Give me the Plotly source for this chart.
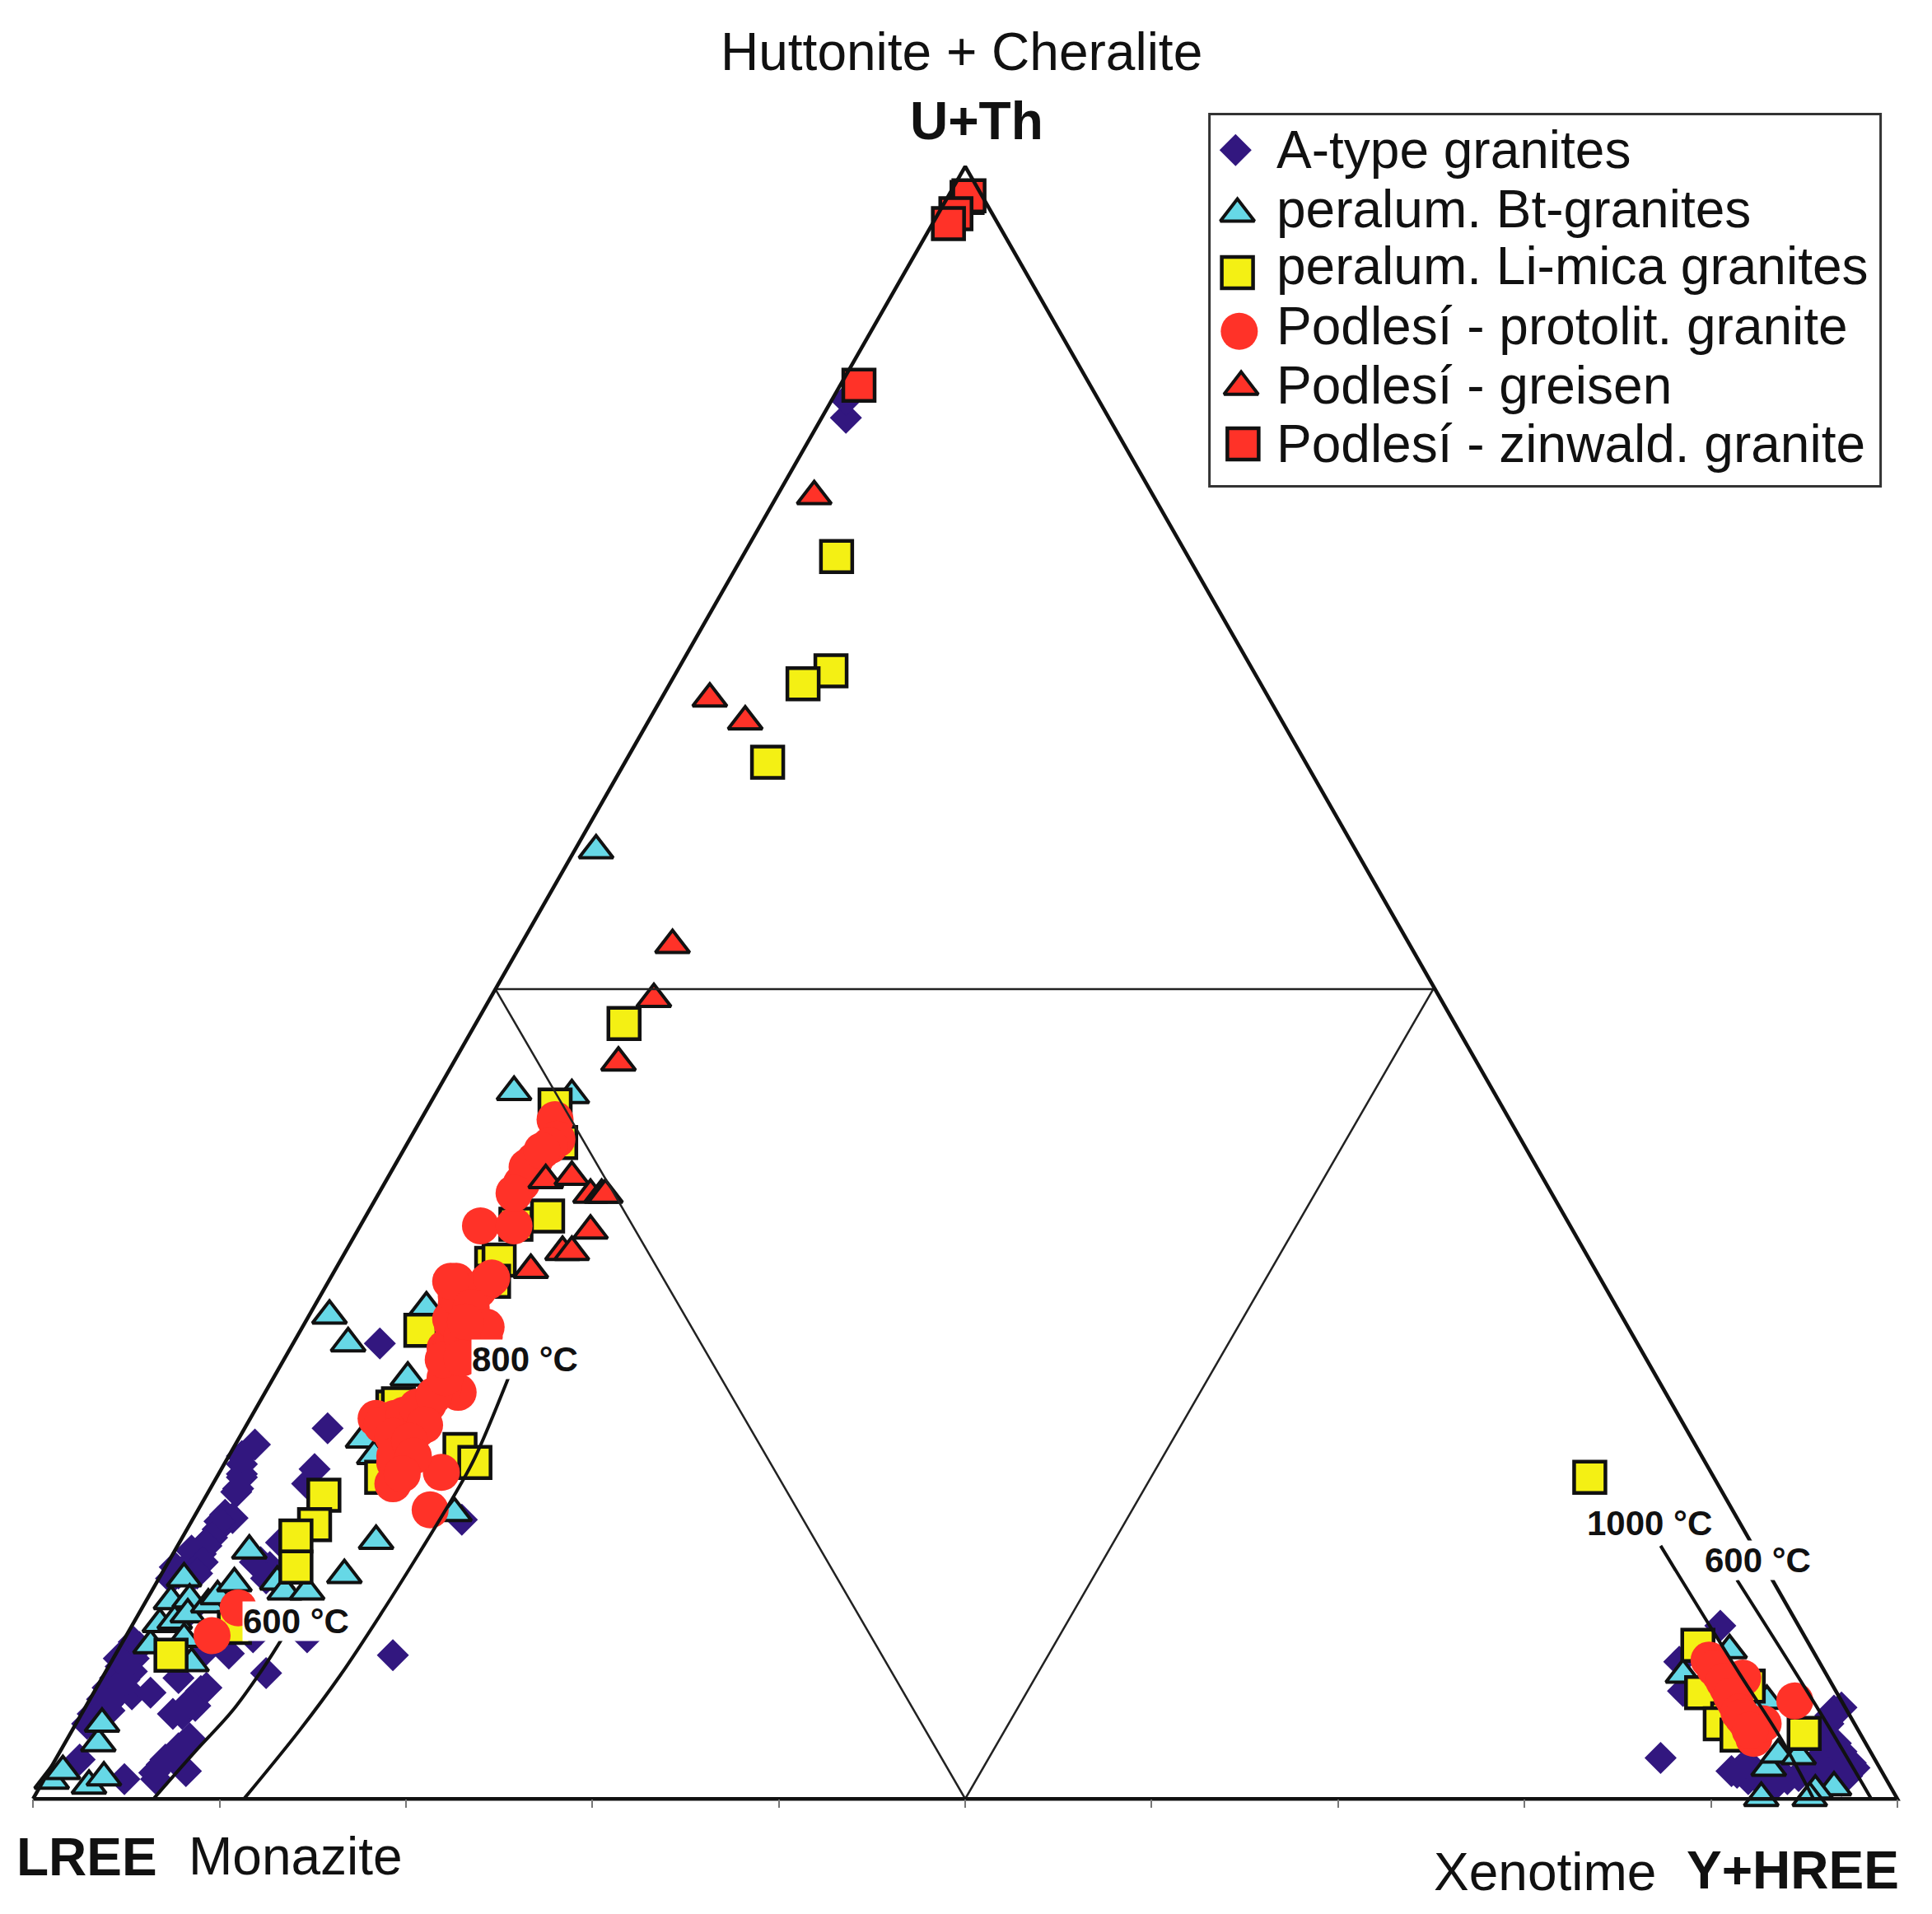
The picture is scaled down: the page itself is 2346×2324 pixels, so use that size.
# Ternary diagram of monazite / xenotime / huttonite+cheralite compositions
import plotly.graph_objects as go

# x = position along the LREE - Y+HREE base (%), y = U+Th (%)
atype_x = [2.9, 3.2, 3.7, 4.0, 4.4, 4.7, 5.1, 5.4, 4.7, 5.3, 6.3, 9.0, 8.7, 8.0, 7.8, 10.5, 11.8, 12.5, 2.5, 4.9,
           8.2, 6.5, 7.1, 7.8, 8.3, 14.7, 19.3, 11.9, 11.2, 11.2, 10.9, 10.3, 9.9, 9.4, 9.0, 8.7, 8.3, 7.6,
           15.8, 15.1, 14.7, 13.3, 12.7, 11.9, 8.7, 7.8, 12.2, 12.8, 8.4, 9.0, 18.6, 23.0, 43.6, 43.6,
           3.4, 4.1, 4.3, 4.0, 4.9, 5.3, 5.4, 5.7, 4.6, 3.1,
           10.7, 10.0, 9.6, 9.0, 9.3, 8.5, 9.1, 8.8, 7.6, 7.4, 11.2, 11.0, 11.2, 12.5,
           7.5, 8.4, 9.3, 6.6, 6.9, 7.5, 8.4,
           90.5, 88.3, 88.5, 87.3, 91.4, 92.0, 93.8, 94.7, 95.5, 96.2, 96.6, 96.3, 96.7, 96.7, 97.7, 97.3, 97.0, 93.1,
           96.4, 97.0, 96.0, 96.4, 95.7, 95.1, 97.0, 97.5, 96.3, 95.8, 92.4, 91.1, 91.9, 92.6, 93.5, 94.1]
atype_y = [4.6, 5.2, 6.1, 6.8, 7.4, 8.1, 8.8, 9.6, 6.6, 6.4, 6.5, 6.6, 5.7, 5.2, 7.4, 8.9, 9.9, 7.7, 2.4, 1.2,
           1.7, 1.6, 2.4, 3.1, 3.4, 9.9, 8.8, 21.7, 20.5, 19.7, 18.8, 17.4, 16.5, 15.8, 15.2, 14.5, 14.3, 13.7,
           22.7, 20.2, 19.3, 15.7, 14.2, 14.5, 13.8, 13.8, 14.5, 13.7, 11.5, 8.8, 27.9, 17.1, 84.6, 85.7,
           4.9, 5.4, 6.4, 5.8, 7.3, 7.8, 8.6, 9.3, 8.6, 4.6,
           17.2, 17.0, 16.0, 15.0, 15.5, 15.2, 14.5, 13.8, 14.2, 13.5, 19.9, 19.0, 21.0, 13.5,
           5.2, 5.9, 6.8, 1.2, 2.1, 2.7, 3.7,
           10.6, 8.4, 6.6, 2.5, 1.6, 1.2, 1.4, 1.4, 1.7, 2.7, 5.4, 4.6, 3.4, 1.9, 1.9, 1.4, 1.1, 1.4,
           5.1, 5.6, 3.7, 2.7, 2.4, 1.9, 2.9, 2.2, 1.6, 1.1, 1.7, 1.7, 2.2, 1.1, 0.9, 1.2]

bt_x = [1.0, 1.6, 3.0, 3.8, 3.5, 3.7, 6.3, 6.8, 7.4, 8.1, 8.4, 7.6, 8.3, 9.4, 8.5, 8.1, 9.9, 10.8, 11.6,
        13.1, 13.5, 14.7, 16.7, 18.4, 17.7, 18.3, 22.6, 15.9, 16.9, 21.1, 20.1, 25.8, 28.9, 30.2,
        92.7, 93.1, 93.6, 94.7, 96.6, 95.6, 95.3, 88.5, 93.0, 91.0]
bt_y = [1.1, 1.7, 0.8, 1.3, 3.4, 4.6, 9.4, 10.7, 12.1, 13.5, 12.2, 10.9, 11.3, 11.9, 8.3, 9.8, 12.4, 13.2, 15.2,
        13.3, 12.7, 12.7, 13.7, 15.8, 22.0, 21.0, 17.5, 29.6, 27.9, 30.1, 25.8, 43.3, 43.1, 58.1,
        0.05, 1.9, 2.7, 2.6, 0.7, 0.5, 0.05, 7.6, 6.0, 9.1]

limica_x = [7.4, 10.8, 15.6, 15.1, 14.1, 14.1, 18.7, 28.0, 28.3, 27.6, 25.9, 24.6, 25.0, 24.7, 20.8, 22.9, 23.7,
            19.3, 19.6, 43.1, 42.8, 41.3, 39.4, 31.7, 83.5, 89.3, 89.5, 90.9, 90.5, 91.4, 92.0, 95.0]
limica_y = [8.8, 10.5, 18.6, 16.8, 16.1, 14.2, 19.7, 42.5, 40.2, 35.7, 35.2, 32.8, 33.0, 31.7, 28.7, 21.4, 20.6,
            24.0, 24.2, 76.1, 69.1, 68.3, 63.5, 47.5, 19.7, 9.4, 6.5, 4.9, 4.6, 3.9, 6.9, 4.0]

protolit_x = [9.6, 11.0, 28.0, 28.1, 27.7, 26.9, 26.2, 24.0, 25.8, 22.7, 24.4, 23.3, 22.7, 22.5, 24.2, 22.1, 22.1,
              22.8, 22.0, 21.2, 20.5, 18.4, 19.4, 20.6, 19.7, 19.4, 19.3, 21.9, 21.3,
              18.7, 19.9, 19.3, 20.6, 21.5, 22.1, 22.4, 22.0, 22.4, 22.7, 23.9, 24.6, 22.4, 23.5, 24.3,
              23.0, 23.2, 23.0, 19.4, 26.5, 27.3, 25.8, 21.0, 20.2, 20.4, 19.8,
              89.9, 90.5, 90.9, 91.7, 91.3, 91.9, 92.3, 92.8, 94.5,
              90.2, 90.7, 91.1, 91.5, 91.7, 92.1]
protolit_y = [10.0, 11.7, 41.6, 40.4, 40.0, 39.1, 37.7, 35.1, 35.1, 31.7, 31.7, 31.0, 30.3, 29.0, 28.3, 27.6, 26.7,
              24.9, 25.2, 24.2, 23.5, 23.3, 23.3, 22.6, 21.8, 20.6, 19.3, 20.0, 17.7,
              22.9, 23.5, 22.2, 24.0, 24.7, 25.8, 27.6, 26.9, 29.4, 30.8, 31.2, 31.9, 31.7, 30.1, 28.9,
              28.3, 29.2, 27.0, 21.0, 38.7, 39.7, 37.1, 22.9, 21.9, 21.0, 19.9,
              8.5, 7.6, 6.8, 7.4, 5.9, 4.7, 3.7, 4.6, 6.0,
              8.0, 7.2, 6.3, 5.3, 5.0, 4.2]

greisen_x = [31.4, 27.5, 28.9, 29.9, 30.5, 30.7, 29.9, 28.4, 28.9, 26.7, 41.9, 36.3, 38.2, 34.3, 33.3, 50.1]
greisen_y = [45.1, 37.9, 38.1, 37.0, 37.0, 37.0, 34.8, 33.5, 33.5, 32.4, 79.8, 67.4, 66.0, 52.3, 49.0, 98.2]

zinwald_x = [44.3, 50.1, 50.2, 49.5, 49.1]
zinwald_y = [86.6, 98.1, 98.2, 97.1, 96.5]

# solvus curves
mnz_600_x = [6.5, 8.7, 10.7, 12.4, 13.4]
mnz_600_y = [0.05, 2.9, 5.4, 8.1, 9.9]
mnz_800_x = [11.35, 14.3, 16.5, 18.7, 20.9, 22.7, 23.7, 25.5]
mnz_800_y = [0.05, 4.2, 7.6, 11.4, 15.4, 18.8, 20.9, 25.8]
xtm_1000_x = [87.3, 91.4, 93.8, 95.5]
xtm_1000_y = [15.5, 7.9, 3.6, 0.0]
xtm_600_x = [91.4, 95.8, 98.6]
xtm_600_y = [13.4, 5.4, 0.0]

# diagram frame
outer_x = [0, 50, 100, 0]
outer_y = [0, 100, 0, 0]
inner_x = [24.8, 75.1, 50, 24.8]
inner_y = [49.6, 49.6, 0, 49.6]
base_ticks = [0, 10, 20, 30, 40, 50, 60, 70, 80, 90, 100]

legend_labels = ["A-type granites", "peralum. Bt-granites", "peralum. Li-mica granites",
                 "Podlesí - protolit. granite", "Podlesí - greisen", "Podlesí - zinwald. granite"]
legend_marker_x = [64.5, 64.6, 64.6, 64.7, 64.8, 64.9]
legend_marker_y = [101.0, 97.1, 93.5, 89.9, 86.5, 83.0]
legend_text_y = [101.0, 97.4, 93.9, 90.2, 86.6, 83.0]

INDIGO = "#32177f"
CYAN = "#66d8e6"
YELLOW = "#f4f014"
RED = "#ff3228"
INK = "#111111"
FONT = "Liberation Sans"

styles = [
    dict(symbol="diamond", size=30, color=INDIGO, line=dict(width=0)),
    dict(symbol="triangle-up", size=36, color=CYAN, line=dict(width=4, color=INK)),
    dict(symbol="square", size=38, color=YELLOW, line=dict(width=4.5, color=INK)),
    dict(symbol="circle", size=45, color=RED, line=dict(width=0)),
    dict(symbol="triangle-up", size=36, color=RED, line=dict(width=4, color=INK)),
    dict(symbol="square", size=38, color=RED, line=dict(width=4.5, color=INK)),
]
series = [(atype_x, atype_y), (bt_x, bt_y), (limica_x, limica_y),
          (protolit_x, protolit_y), (greisen_x, greisen_y), (zinwald_x, zinwald_y)]

fig = go.Figure()

for (xs, ys), style, label in zip(series, styles, legend_labels):
    fig.add_trace(go.Scatter(x=xs, y=ys, mode="markers", marker=style, name=label, showlegend=False))

# lines sit on top of the points
for xs, ys in [(mnz_600_x, mnz_600_y), (mnz_800_x, mnz_800_y), (xtm_1000_x, xtm_1000_y), (xtm_600_x, xtm_600_y)]:
    fig.add_trace(go.Scatter(x=xs, y=ys, mode="lines", line=dict(color=INK, width=4, shape="spline"),
                             showlegend=False))
fig.add_trace(go.Scatter(x=inner_x, y=inner_y, mode="lines", line=dict(color="#222222", width=2.5), showlegend=False))
fig.add_trace(go.Scatter(x=outer_x, y=outer_y, mode="lines", line=dict(color=INK, width=4.5), showlegend=False))

# hand made legend, plotly caps legend markers at 16 px
for i, label in enumerate(legend_labels):
    fig.add_trace(go.Scatter(x=[legend_marker_x[i]], y=[legend_marker_y[i]], mode="markers", marker=styles[i],
                             showlegend=False))
    fig.add_annotation(x=66.6, y=legend_text_y[i], text=label, showarrow=False, xanchor="left",
                       font=dict(family=FONT, size=64, color=INK))
fig.add_shape(type="rect", x0=63.1, x1=99.1, y0=80.4, y1=103.2, line=dict(color="#333333", width=3))

# corner labels
for text, x, y, bold in [("Huttonite + Cheralite", 49.8, 107.0, False), ("U+Th", 50.6, 102.8, True),
                         ("LREE", 2.9, -3.6, True), ("Monazite", 14.1, -3.5, False),
                         ("Xenotime", 81.1, -4.5, False), ("Y+HREE", 94.4, -4.4, True)]:
    fig.add_annotation(x=x, y=y, text="<b>%s</b>" % text if bold else text, showarrow=False,
                       font=dict(family=FONT, size=64, color=INK))

# temperature labels blank out whatever is under them
for text, x, y in [("800 °C", 26.4, 26.9), ("600 °C", 14.1, 10.9), ("1000 °C", 86.7, 16.9), ("600 °C", 92.5, 14.6)]:
    fig.add_annotation(x=x, y=y, text="<b>%s</b>" % text, showarrow=False, bgcolor="white", borderpad=0,
                       font=dict(family=FONT, size=42, color=INK))

# ranges leave room for the 8 px the page body adds
fig.update_xaxes(range=[-1.42, 102.21], showgrid=False, zeroline=False, showline=False, showticklabels=False,
                 tickmode="array", tickvals=base_ticks, ticks="outside", ticklen=10, tickwidth=2, tickcolor="#777777",
                 anchor="free", position=0.0636)
fig.update_yaxes(range=[-7.46, 109.79], showgrid=False, zeroline=False, showline=False, showticklabels=False,
                 ticks="")
fig.update_layout(width=2346, height=2324, margin=dict(l=0, r=0, t=0, b=0), paper_bgcolor="white",
                  plot_bgcolor="white", showlegend=False)

fig.write_html("out.html")
